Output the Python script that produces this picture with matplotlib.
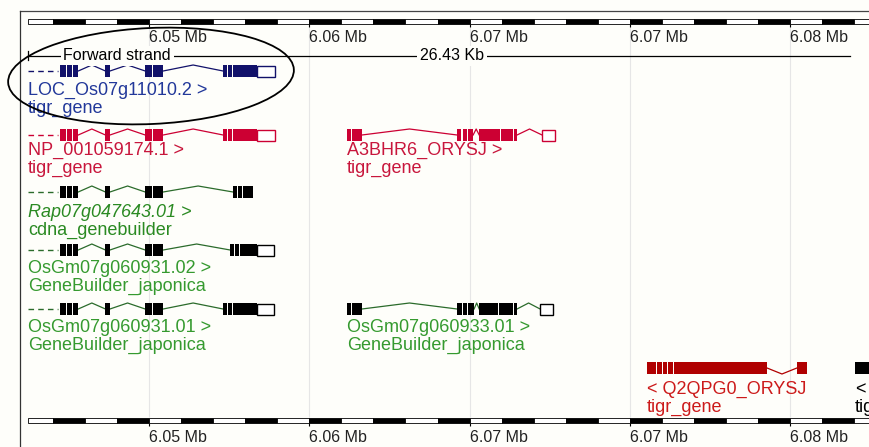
import math
import matplotlib.pyplot as plt
from matplotlib.patches import Rectangle, Ellipse

plt.rcParams['font.family'] = ['Liberation Sans', 'DejaVu Sans']

# visible window and scale bar (kb)
view_start, view_end = 6050.35, 6077.46
bar_start = 6051.23
bar_length = 26.43

tick_pos = [6055, 6060, 6065, 6070, 6075]
tick_labels = ['6.05 Mb', '6.06 Mb', '6.07 Mb', '6.07 Mb', '6.08 Mb']

# transcript models (kb): coding exons are filled, utr exons drawn open
loc_coding = [(6052.22, 6052.42), (6052.45, 6052.60), (6052.63, 6052.79), (6053.64, 6053.78),
              (6054.88, 6055.10), (6055.13, 6055.44), (6057.31, 6057.44), (6057.47, 6057.60),
              (6057.63, 6058.37)]
loc_utr = [(6058.37, 6058.93)]

np_coding = [(6052.22, 6052.42), (6052.45, 6052.60), (6052.63, 6052.79), (6053.64, 6053.78),
             (6054.88, 6055.10), (6055.13, 6055.44), (6057.31, 6057.44), (6057.47, 6057.60),
             (6057.63, 6058.37)]
np_utr = [(6058.37, 6058.93)]

a3b_coding = [(6061.18, 6061.29), (6061.34, 6061.64), (6064.61, 6064.74), (6064.78, 6064.92),
              (6064.96, 6065.11), (6065.30, 6065.95), (6065.98, 6066.35), (6066.38, 6066.48)]
a3b_utr = [(6067.26, 6067.66)]

rap_coding = [(6052.22, 6052.42), (6052.45, 6052.60), (6052.63, 6052.79), (6053.64, 6053.78),
              (6054.88, 6055.10), (6055.13, 6055.44), (6057.62, 6057.74), (6057.77, 6057.89),
              (6057.92, 6058.24)]

gm02_coding = [(6052.22, 6052.42), (6052.45, 6052.60), (6052.63, 6052.79), (6053.64, 6053.78),
               (6054.88, 6055.10), (6055.13, 6055.44), (6057.53, 6057.66), (6057.69, 6057.80),
               (6057.83, 6058.37)]
gm02_utr = [(6058.37, 6058.90)]

gm01_coding = [(6052.22, 6052.42), (6052.45, 6052.60), (6052.63, 6052.79), (6053.64, 6053.78),
               (6054.88, 6055.10), (6055.13, 6055.44), (6057.31, 6057.44), (6057.47, 6057.60),
               (6057.63, 6058.37)]
gm01_utr = [(6058.37, 6058.90)]

gm33_coding = [(6061.18, 6061.29), (6061.34, 6061.64), (6064.61, 6064.76), (6064.80, 6064.92),
               (6064.96, 6065.14), (6065.30, 6065.88), (6065.91, 6066.35), (6066.38, 6066.48)]
gm33_utr = [(6067.20, 6067.60)]

q2q_coding = [(6070.53, 6070.82), (6070.85, 6070.99), (6071.02, 6071.17), (6071.20, 6071.34),
              (6071.37, 6074.28), (6075.21, 6075.52)]
edge_coding = [(6077.02, 6078.50)]

lead_in = (6051.23, 6052.16)   # gene continues off the left edge

bg = '#fefefa'
navy, navy_txt = '#11116a', '#22389a'
crimson, crimson_txt = '#cc0033', '#c8163c'
green_line, green_txt = '#2b6b2b', '#359a2f'
dark_red, red_txt = '#b00000', '#cc1a1a'

fig = plt.figure(figsize=(8.69, 4.47), dpi=100, facecolor=bg)
ax = fig.add_axes([0, 0, 1, 1])
ax.set_xlim(view_start, view_end)
ax.set_ylim(447, 0)
ax.axis('off')


def draw_transcript(y, coding, utr=(), color='k', line=None, strand=1, lead=False):
    line = line or color
    blocks = sorted([(s, e, True) for s, e in coding] + [(s, e, False) for s, e in utr])
    for (s0, e0, _), (s1, e1, _) in zip(blocks[:-1], blocks[1:]):
        if s1 - e0 > 0.1:
            mid = (e0 + s1) / 2
            ax.plot([e0, mid, s1], [y, y - strand * 6, y], color=line, lw=0.9, zorder=2)
    for s, e, filled in blocks:
        if filled:
            ax.add_patch(Rectangle((s, y - 6), e - s, 12, facecolor=color, edgecolor='none', zorder=3))
        else:
            ax.add_patch(Rectangle((s, y - 5.5), e - s, 11, facecolor='white', edgecolor=color,
                                   lw=1.0, zorder=3))
    if lead:
        ax.plot(lead_in, [y, y], color=line, lw=1, ls=(0, (4, 3)), zorder=2)


def label(x, y, name, source, color, italic=False):
    ax.text(x, y, name, color=color, fontsize=13, va='baseline', style='italic' if italic else 'normal')
    ax.text(x, y + 18, source, color=color, fontsize=13, va='baseline')


def draw_scalebar(y0):
    k = math.floor(bar_start)
    while k < view_end:
        s, e = max(k, bar_start), min(k + 1, bar_start + bar_length)
        ax.add_patch(Rectangle((s, y0), e - s, 5, facecolor='black' if k % 2 == 0 else 'white',
                               edgecolor='black', lw=0.6, zorder=3))
        k += 1
    ax.vlines(tick_pos, y0 + 5, y0 + 8, color='black', lw=0.8)


# grid and frame
ax.vlines(tick_pos, 27, 417, color='#e6e6e6', lw=0.8, zorder=0)
ax.plot([6050.98, view_end], [11, 11], color='#444444', lw=0.9)
ax.plot([6050.98, 6050.98], [11, 447], color='#333333', lw=0.9)

# scale bars
draw_scalebar(19)
draw_scalebar(418)
for t, lab in zip(tick_pos, tick_labels):
    ax.text(t, 42, lab, fontsize=11.5, color='#222222', va='baseline')
    ax.text(t, 442, lab, fontsize=11.5, color='#222222', va='baseline')

# strand line
ax.plot([bar_start, view_end - 0.6], [55.5, 55.5], color='black', lw=0.9)
ax.plot([bar_start, bar_start], [51, 60], color='black', lw=0.9)
ax.annotate('', xy=(view_end + 0.1, 55.5), xytext=(view_end - 0.9, 55.5),
            arrowprops=dict(arrowstyle='-|>,head_length=1.4,head_width=0.35', color='black',
                            lw=1, shrinkA=0, shrinkB=0))
ax.text(bar_start + 1.1, 60.5, 'Forward strand', fontsize=11.5, va='baseline',
        bbox=dict(fc=bg, ec='none', pad=2))
ax.text(bar_start + bar_length / 2, 60.5, f'{bar_length:.2f} Kb', fontsize=11.5, ha='center',
        va='baseline', bbox=dict(fc=bg, ec='none', pad=2))

# tracks
draw_transcript(71, loc_coding, loc_utr, navy, lead=True)
label(bar_start, 95, 'LOC_Os07g11010.2 >', 'tigr_gene', navy_txt)

draw_transcript(135, np_coding, np_utr, crimson, lead=True)
label(bar_start, 155, 'NP_001059174.1 >', 'tigr_gene', crimson_txt)
draw_transcript(135, a3b_coding, a3b_utr, crimson)
label(a3b_coding[0][0], 155, 'A3BHR6_ORYSJ >', 'tigr_gene', crimson_txt)

draw_transcript(192, rap_coding, (), 'black', green_line, lead=True)
label(bar_start, 217, 'Rap07g047643.01 >', 'cdna_genebuilder', '#2a8a22', italic=True)

draw_transcript(250, gm02_coding, gm02_utr, 'black', green_line, lead=True)
label(bar_start, 273, 'OsGm07g060931.02 >', 'GeneBuilder_japonica', green_txt)

draw_transcript(309, gm01_coding, gm01_utr, 'black', green_line, lead=True)
label(bar_start, 332, 'OsGm07g060931.01 >', 'GeneBuilder_japonica', green_txt)
draw_transcript(309, gm33_coding, gm33_utr, 'black', green_line)
label(gm33_coding[0][0], 332, 'OsGm07g060933.01 >', 'GeneBuilder_japonica', green_txt)

draw_transcript(368, q2q_coding, (), dark_red, strand=-1)
label(q2q_coding[0][0], 394, '< Q2QPG0_ORYSJ', 'tigr_gene', red_txt)
draw_transcript(368, edge_coding, (), 'black', strand=-1)
label(edge_coding[0][0], 394, '<', 'tigr_gene', 'black')

# hand-drawn highlight ring around the first transcript
ov = fig.add_axes([0, 0, 1, 1])
ov.set_xlim(0, 869)
ov.set_ylim(447, 0)
ov.axis('off')
ov.add_patch(Ellipse((151, 76), 286, 96, angle=-2.6, fill=False, ec='black', lw=1.3))

fig.savefig('out.png', dpi=100, facecolor=bg)
